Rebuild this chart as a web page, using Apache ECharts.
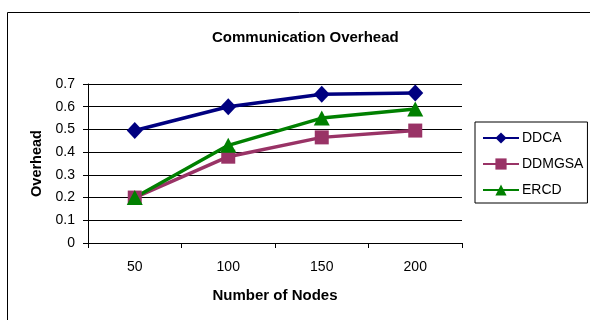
<!DOCTYPE html>
<html>
<head>
<meta charset="utf-8">
<script src="https://cdn.jsdelivr.net/npm/echarts@6/dist/echarts.min.js"></script>
<style>
  html, body { margin: 0; padding: 0; background: #fff; }
  #chart { width: 590px; height: 320px; }
</style>
</head>
<body>
<div id="chart"></div>
<script>
// Node counts on the x axis
const categories = ['50', '100', '150', '200'];
// Overhead per protocol
const ddca = [0.495, 0.60, 0.655, 0.66];
const ddmgsa = [0.20, 0.38, 0.465, 0.495];
const ercd = [0.20, 0.43, 0.55, 0.59];

const FONT = '"Liberation Sans", Arial, sans-serif';

const chart = echarts.init(document.getElementById('chart'), null, { renderer: 'canvas' });

function lineSeries(name, data, color, symbol, size) {
  return {
    name: name,
    type: 'line',
    data: data,
    symbol: symbol,
    symbolSize: size,
    showAllSymbol: true,
    lineStyle: { color: color, width: 3.5 },
    itemStyle: { color: color, borderWidth: 0 },
    emphasis: { disabled: true },
    animation: false,
    z: 3
  };
}

chart.setOption({
  animation: false,
  backgroundColor: '#ffffff',
  textStyle: { fontFamily: FONT },
  title: {
    text: 'Communication Overhead',
    left: 207,
    top: 25,
    textStyle: { fontFamily: FONT, fontSize: 15, fontWeight: 'bold', color: '#000' }
  },
  graphic: [{
    // chart-area frame (left and top edges fall inside the canvas)
    type: 'polyline',
    shape: { points: [[7.5, 340], [7.5, 12.5], [620, 12.5]] },
    style: { fill: null, stroke: '#000', lineWidth: 1 },
    silent: true,
    z: -1
  }],
  legend: {
    orient: 'vertical',
    left: 475,
    top: 122,
    width: 113,
    padding: [9, 4, 6, 7],
    itemWidth: 36,
    itemHeight: 14,
    itemGap: 12,
    borderColor: '#000',
    borderWidth: 1,
    backgroundColor: '#fff',
    textStyle: { fontFamily: FONT, fontSize: 14, color: '#000', padding: [0, 0, 0, -2] },
    data: ['DDCA', 'DDMGSA', 'ERCD']
  },
  grid: { left: 88, right: 128, top: 84, bottom: 77, containLabel: false },
  xAxis: {
    type: 'category',
    data: categories,
    boundaryGap: true,
    name: 'Number of Nodes',
    nameLocation: 'middle',
    nameGap: 45,
    nameTextStyle: { fontFamily: FONT, fontSize: 15, fontWeight: 'bold', color: '#000' },
    axisLine: { lineStyle: { color: '#000', width: 1 } },
    axisTick: { show: true, length: 5, inside: false, alignWithLabel: false, lineStyle: { color: '#000' } },
    axisLabel: { fontFamily: FONT, fontSize: 14, color: '#000', margin: 17 },
    splitLine: { show: false }
  },
  yAxis: {
    type: 'value',
    min: 0,
    max: 0.7,
    interval: 0.1,
    name: 'Overhead',
    nameLocation: 'middle',
    nameGap: 42,
    nameRotate: 90,
    nameTextStyle: { fontFamily: FONT, fontSize: 14.5, fontWeight: 'bold', color: '#000' },
    axisLine: { show: true, lineStyle: { color: '#000', width: 1 } },
    axisTick: { show: true, length: 5, inside: false, lineStyle: { color: '#000' } },
    axisLabel: {
      fontFamily: FONT, fontSize: 14, color: '#000', margin: 13,
      formatter: v => (Math.round(v * 10) / 10).toString()
    },
    splitLine: { show: true, lineStyle: { color: '#000', width: 1 } }
  },
  series: [
    lineSeries('DDCA', ddca, '#000080', 'diamond', [16, 17]),
    lineSeries('DDMGSA', ddmgsa, '#993366', 'rect', 14),
    lineSeries('ERCD', ercd, '#008000', 'triangle', [16, 15])
  ]
});
</script>
</body>
</html>
